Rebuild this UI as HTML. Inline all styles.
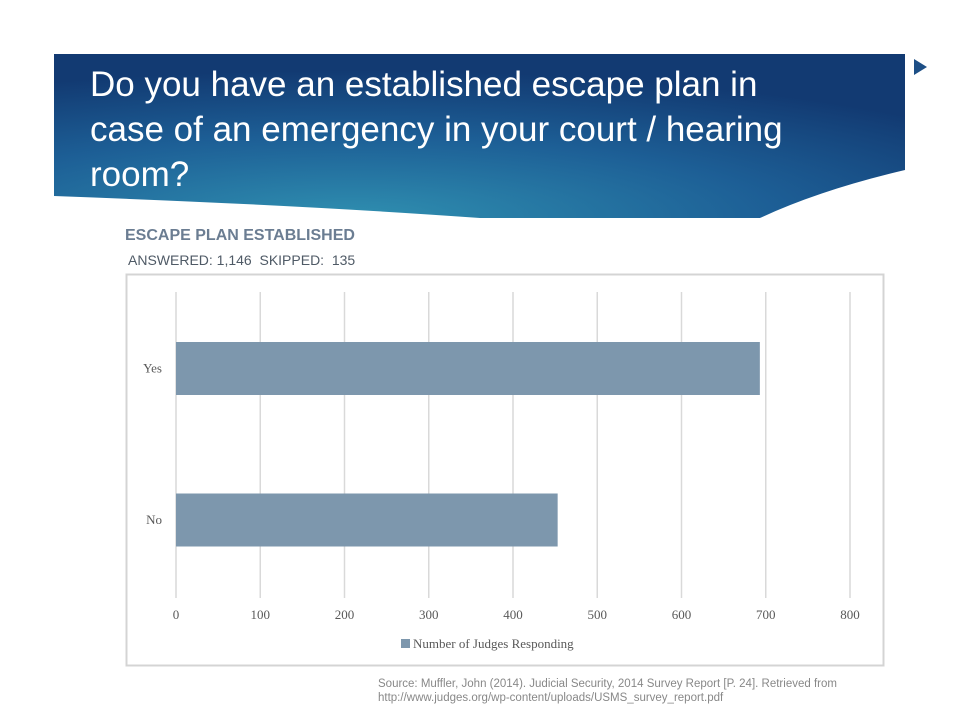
<!DOCTYPE html>
<html><head><meta charset="utf-8"><style>
body{margin:0;width:960px;height:720px;background:#fff;position:relative;overflow:hidden;font-family:"Liberation Sans",sans-serif}
.abs{position:absolute}
</style></head><body>
<svg class="abs" style="left:0;top:0" width="960" height="720">
<defs>
<radialGradient id="bg" cx="0.35" cy="1" r="0.9" fx="0.35" fy="1">
<stop offset="0" stop-color="#2f8fb0"/><stop offset="0.55" stop-color="#1d5f96"/><stop offset="1" stop-color="#123a72"/>
</radialGradient>
</defs>
<path d="M54,54 H905 V170 Q820,190 760,218 L54,218 Z" fill="url(#bg)"/>
<path d="M54,196 Q300,205 480,218 L54,218 Z" fill="#fff"/>
<path d="M760,218 Q840,200 905,192 V218 Z" fill="#fff"/>
<polygon points="914,59 927,67 914,75" fill="#1d4f86"/>
</svg>
<div class="abs" style="left:90px;top:62px;color:#fff;font-size:35px;line-height:45px;width:700px">Do you have an established escape plan in case of an emergency in your court / hearing room?</div>
<div class="abs" style="left:125px;top:227px;color:#6b7d92;font-size:16px;font-weight:bold">ESCAPE PLAN ESTABLISHED</div>
<div class="abs" style="left:128px;top:252px;color:#4f5a66;font-size:14px">ANSWERED: 1,146&nbsp; SKIPPED:&nbsp; 135</div>
<svg class="abs" style="left:0;top:0" width="960" height="720" id="chart">
<rect x="126.5" y="274.5" width="757" height="391" fill="none" stroke="#d4d4d4" stroke-width="2"/>
</svg>
<div class="abs" style="left:378px;top:677px;color:#888;font-size:11.5px;line-height:14px">Source: Muffler, John (2014). Judicial Security, 2014 Survey Report [P. 24]. Retrieved from<br>http://www.judges.org/wp-content/uploads/USMS_survey_report.pdf</div>
<script>
const categories=["Yes","No"];
const values=[693,453];
const ticks=[0,100,200,300,400,500,600,700,800];
const seriesName="Number of Judges Responding";
const svg=document.getElementById('chart');const NS="http://www.w3.org/2000/svg";
const x=v=>176+v*(850-176)/800;
const yc=[368.5,520];const bh=53;
function mk(t,a){const e=document.createElementNS(NS,t);for(const k in a)e.setAttribute(k,a[k]);svg.appendChild(e);return e;}
ticks.forEach(t=>{
 const g=mk('line',{x1:x(t),x2:x(t),y1:292,y2:598,stroke:'#d9d9d9','stroke-width':1.5});
 
 
 const l=mk('text',{x:x(t),y:619,'text-anchor':'middle','font-family':'Liberation Serif, serif','font-size':13,fill:'#595959'});
 l.textContent=t;
 
 
});
categories.forEach((c,i)=>{
 const b=mk('rect',{x:x(0),y:yc[i]-bh/2,width:x(values[i])-x(0),height:bh,fill:'#7d97ad'});
 
 
 const l=mk('text',{x:162,y:yc[i]+4,'text-anchor':'end','font-family':'Liberation Serif, serif','font-size':13,fill:'#595959'});
 l.textContent=c;
 
 
});
const sw=mk('rect',{x:401,y:639,width:9,height:9,fill:'#7d97ad'});


const lt=mk('text',{x:413,y:648,'font-family':'Liberation Serif, serif','font-size':13,fill:'#595959'});
lt.textContent=seriesName;


</script>
</body></html>
